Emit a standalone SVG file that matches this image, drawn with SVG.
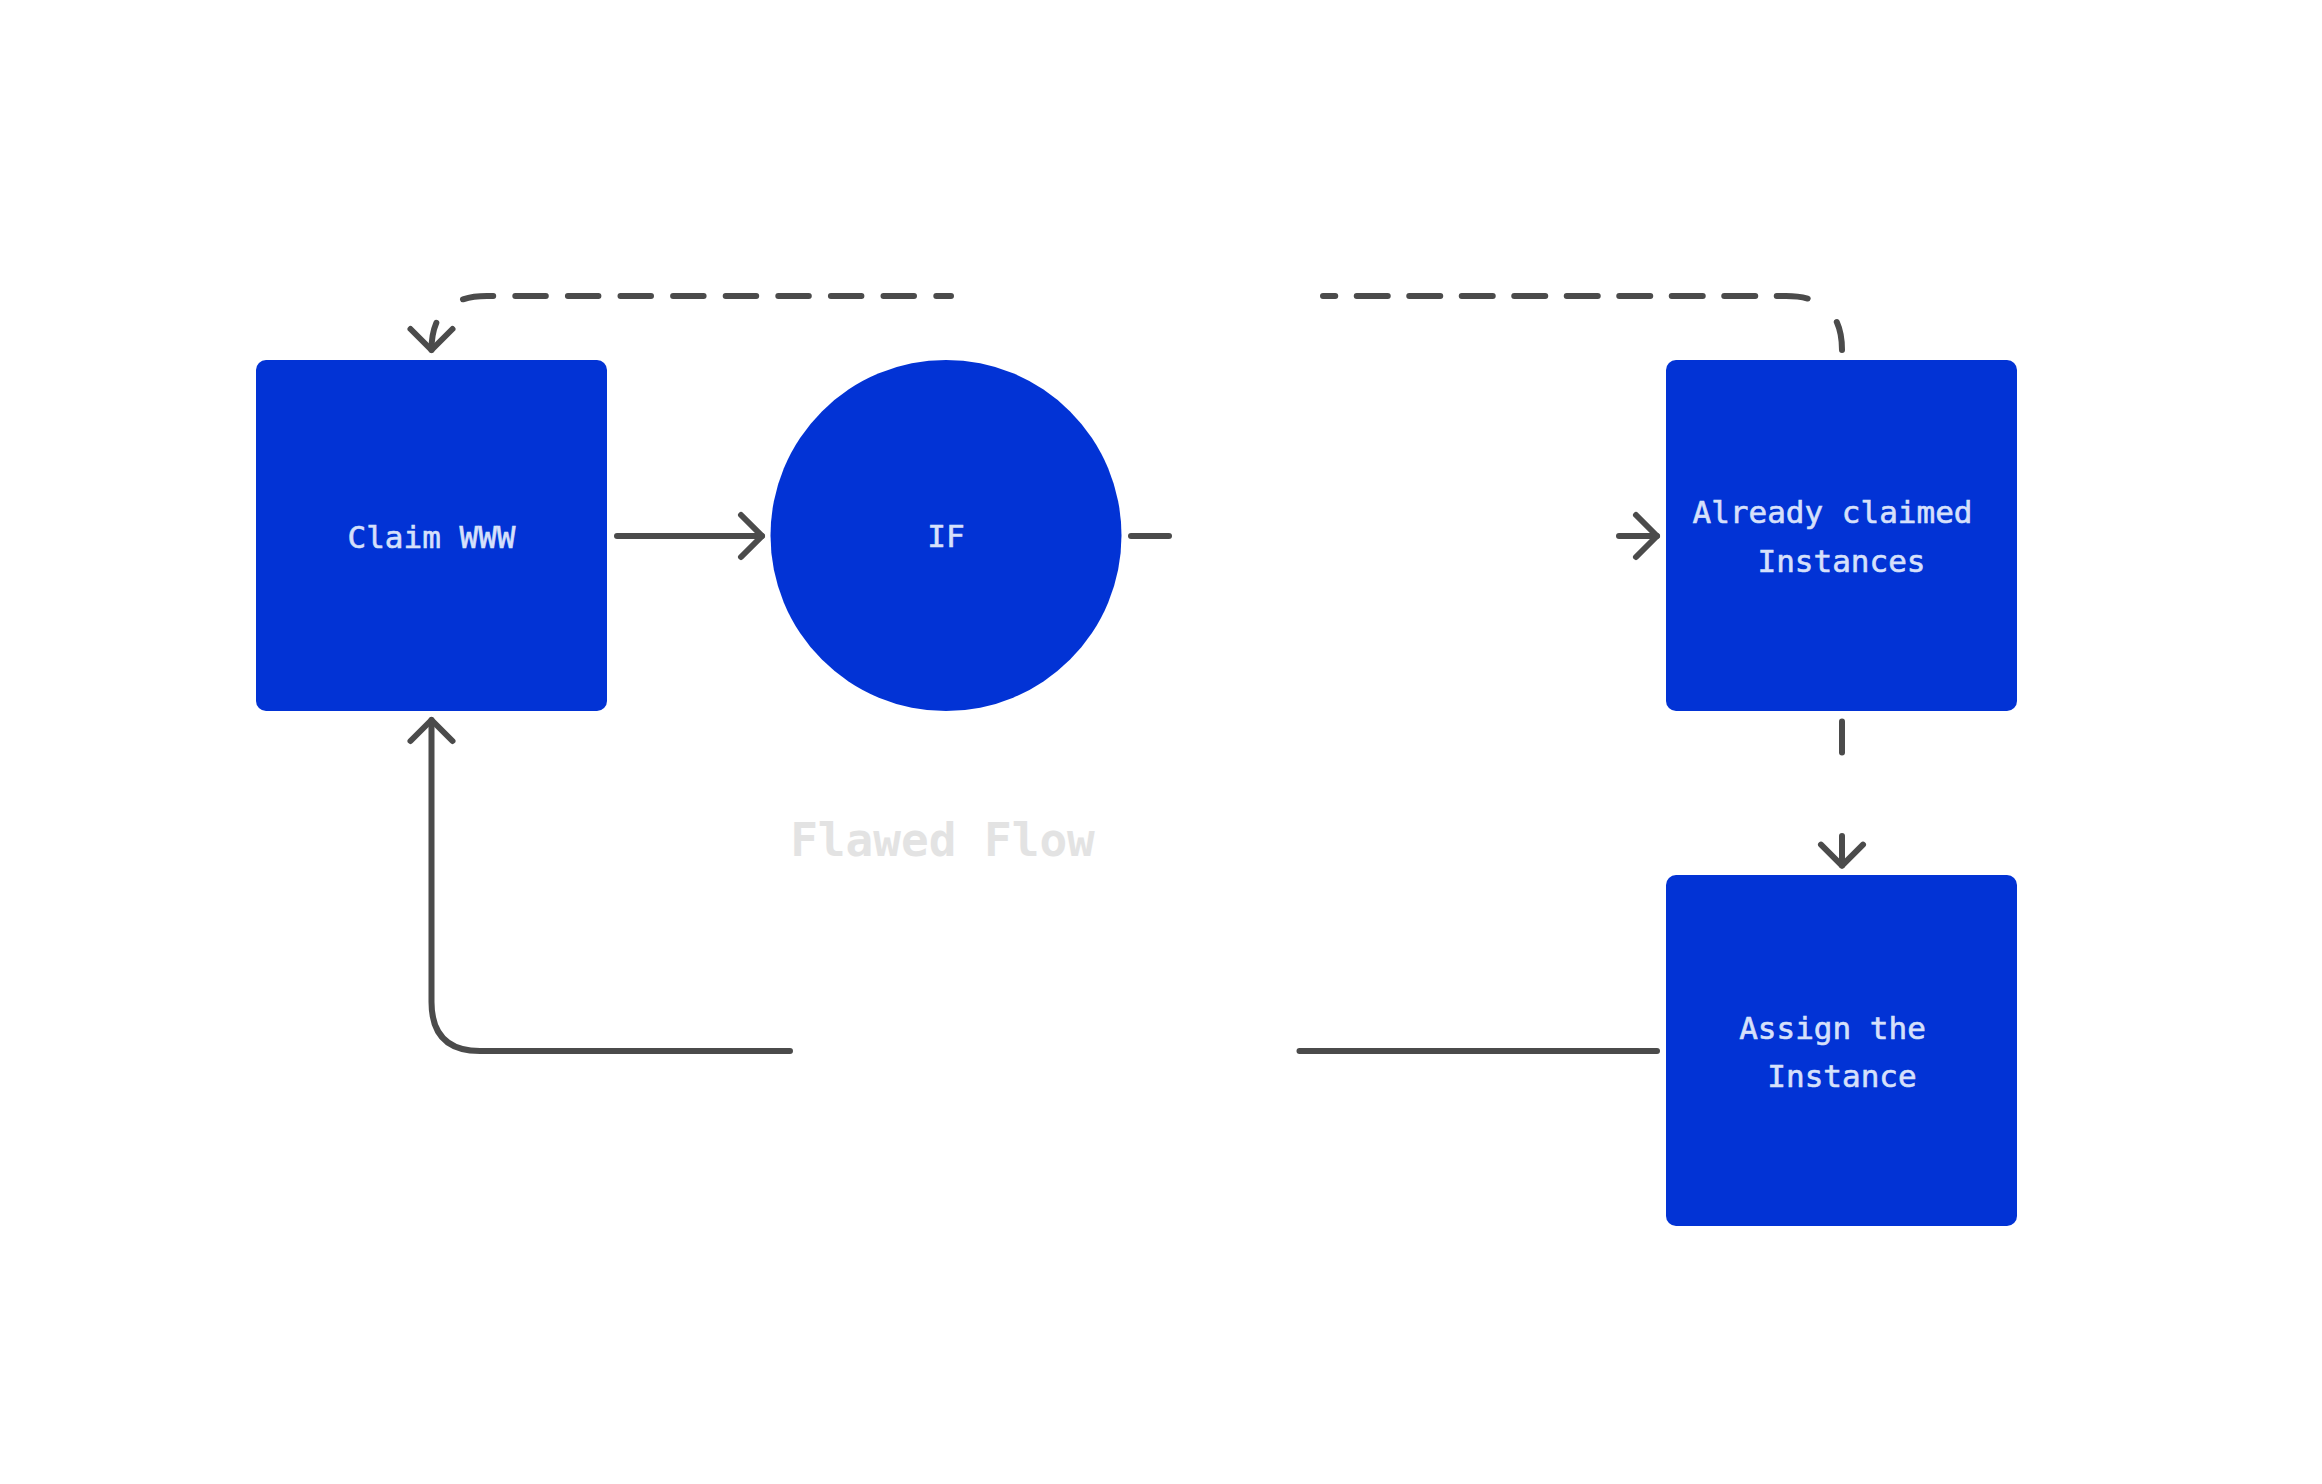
<svg xmlns="http://www.w3.org/2000/svg" width="2322" height="1484" viewBox="0 0 2322 1484">
<style>
.node{fill:#0233d5}
.lbl{font-family:"DejaVu Sans Mono","Liberation Mono",monospace;font-size:31px;fill:#d6e0fb;stroke:#d6e0fb;stroke-width:0.6;text-anchor:middle}
.title{font-family:"DejaVu Sans Mono","Liberation Mono",monospace;font-size:46px;font-weight:bold;fill:#e3e3e3;text-anchor:middle}
.c{fill:none;stroke:#4b4b4b;stroke-width:6;stroke-linecap:round;stroke-linejoin:round}
</style>
<defs>
<marker id="arrow" markerUnits="userSpaceOnUse" orient="auto" refX="0" refY="0" markerWidth="60" markerHeight="60" overflow="visible">
<path d="M -21 -21 L 0 0 L -21 21" fill="none" stroke="#4b4b4b" stroke-width="6" stroke-linecap="round" stroke-linejoin="round" stroke-dasharray="none"/>
</marker>
</defs>
<rect width="2322" height="1484" fill="#ffffff"/>
<g id="connectors">
<path class="c" d="M 617 536 L 762 536" marker-end="url(#arrow)"/>
<path class="c" d="M 1131 536 L 1169 536"/>
<path class="c" d="M 1619 536 L 1657 536" marker-end="url(#arrow)"/>
<path class="c" d="M 1842 721.6 L 1842 752.4"/>
<path class="c" d="M 1842 836 L 1842 865.6" marker-end="url(#arrow)"/>
<path class="c" d="M 1657 1051 L 1299.5 1051"/>
<path class="c" d="M 790 1051 L 480 1051 Q 431.5 1051 431.5 1002 L 431.5 720" marker-end="url(#arrow)"/>
<path class="c" d="M 1842 350 Q 1842 296 1786 296 L 1323 296" stroke-dasharray="28.5 38.9 31 21.5 31 21.5 31 21.5 31 21.5 31 21.5 31 21.5 31 21.5 31 21.5 31 21.5 31 400"/>
<path class="c" d="M 951 296 L 487 296 Q 431.5 296 431.5 350" stroke-dasharray="14.7 22.3 30.5 22.1 30.5 22.1 30.5 22.1 30.5 22.1 30.5 22.1 30.5 22.1 30.5 22.1 30.5 22.1 30.5 36.8 100" marker-end="url(#arrow)"/>
</g>
<g id="claim-www">
<rect class="node" x="256" y="360" width="351" height="351" rx="10"/>
<text class="lbl" x="431.5" y="548">Claim WWW</text>
</g>
<g id="if">
<circle class="node" cx="946" cy="535.5" r="175.5"/>
<text class="lbl" x="946" y="547">IF</text>
</g>
<g id="already-claimed">
<rect class="node" x="1666" y="360" width="351" height="351" rx="10"/>
<text class="lbl" x="1832.5" y="523">Already claimed</text>
<text class="lbl" x="1841.5" y="572">Instances</text>
</g>
<g id="assign-instance">
<rect class="node" x="1666" y="875" width="351" height="351" rx="10"/>
<text class="lbl" x="1832.5" y="1039">Assign the</text>
<text class="lbl" x="1842" y="1087">Instance</text>
</g>
<text class="title" x="942.5" y="855.5">Flawed Flow</text>
</svg>
